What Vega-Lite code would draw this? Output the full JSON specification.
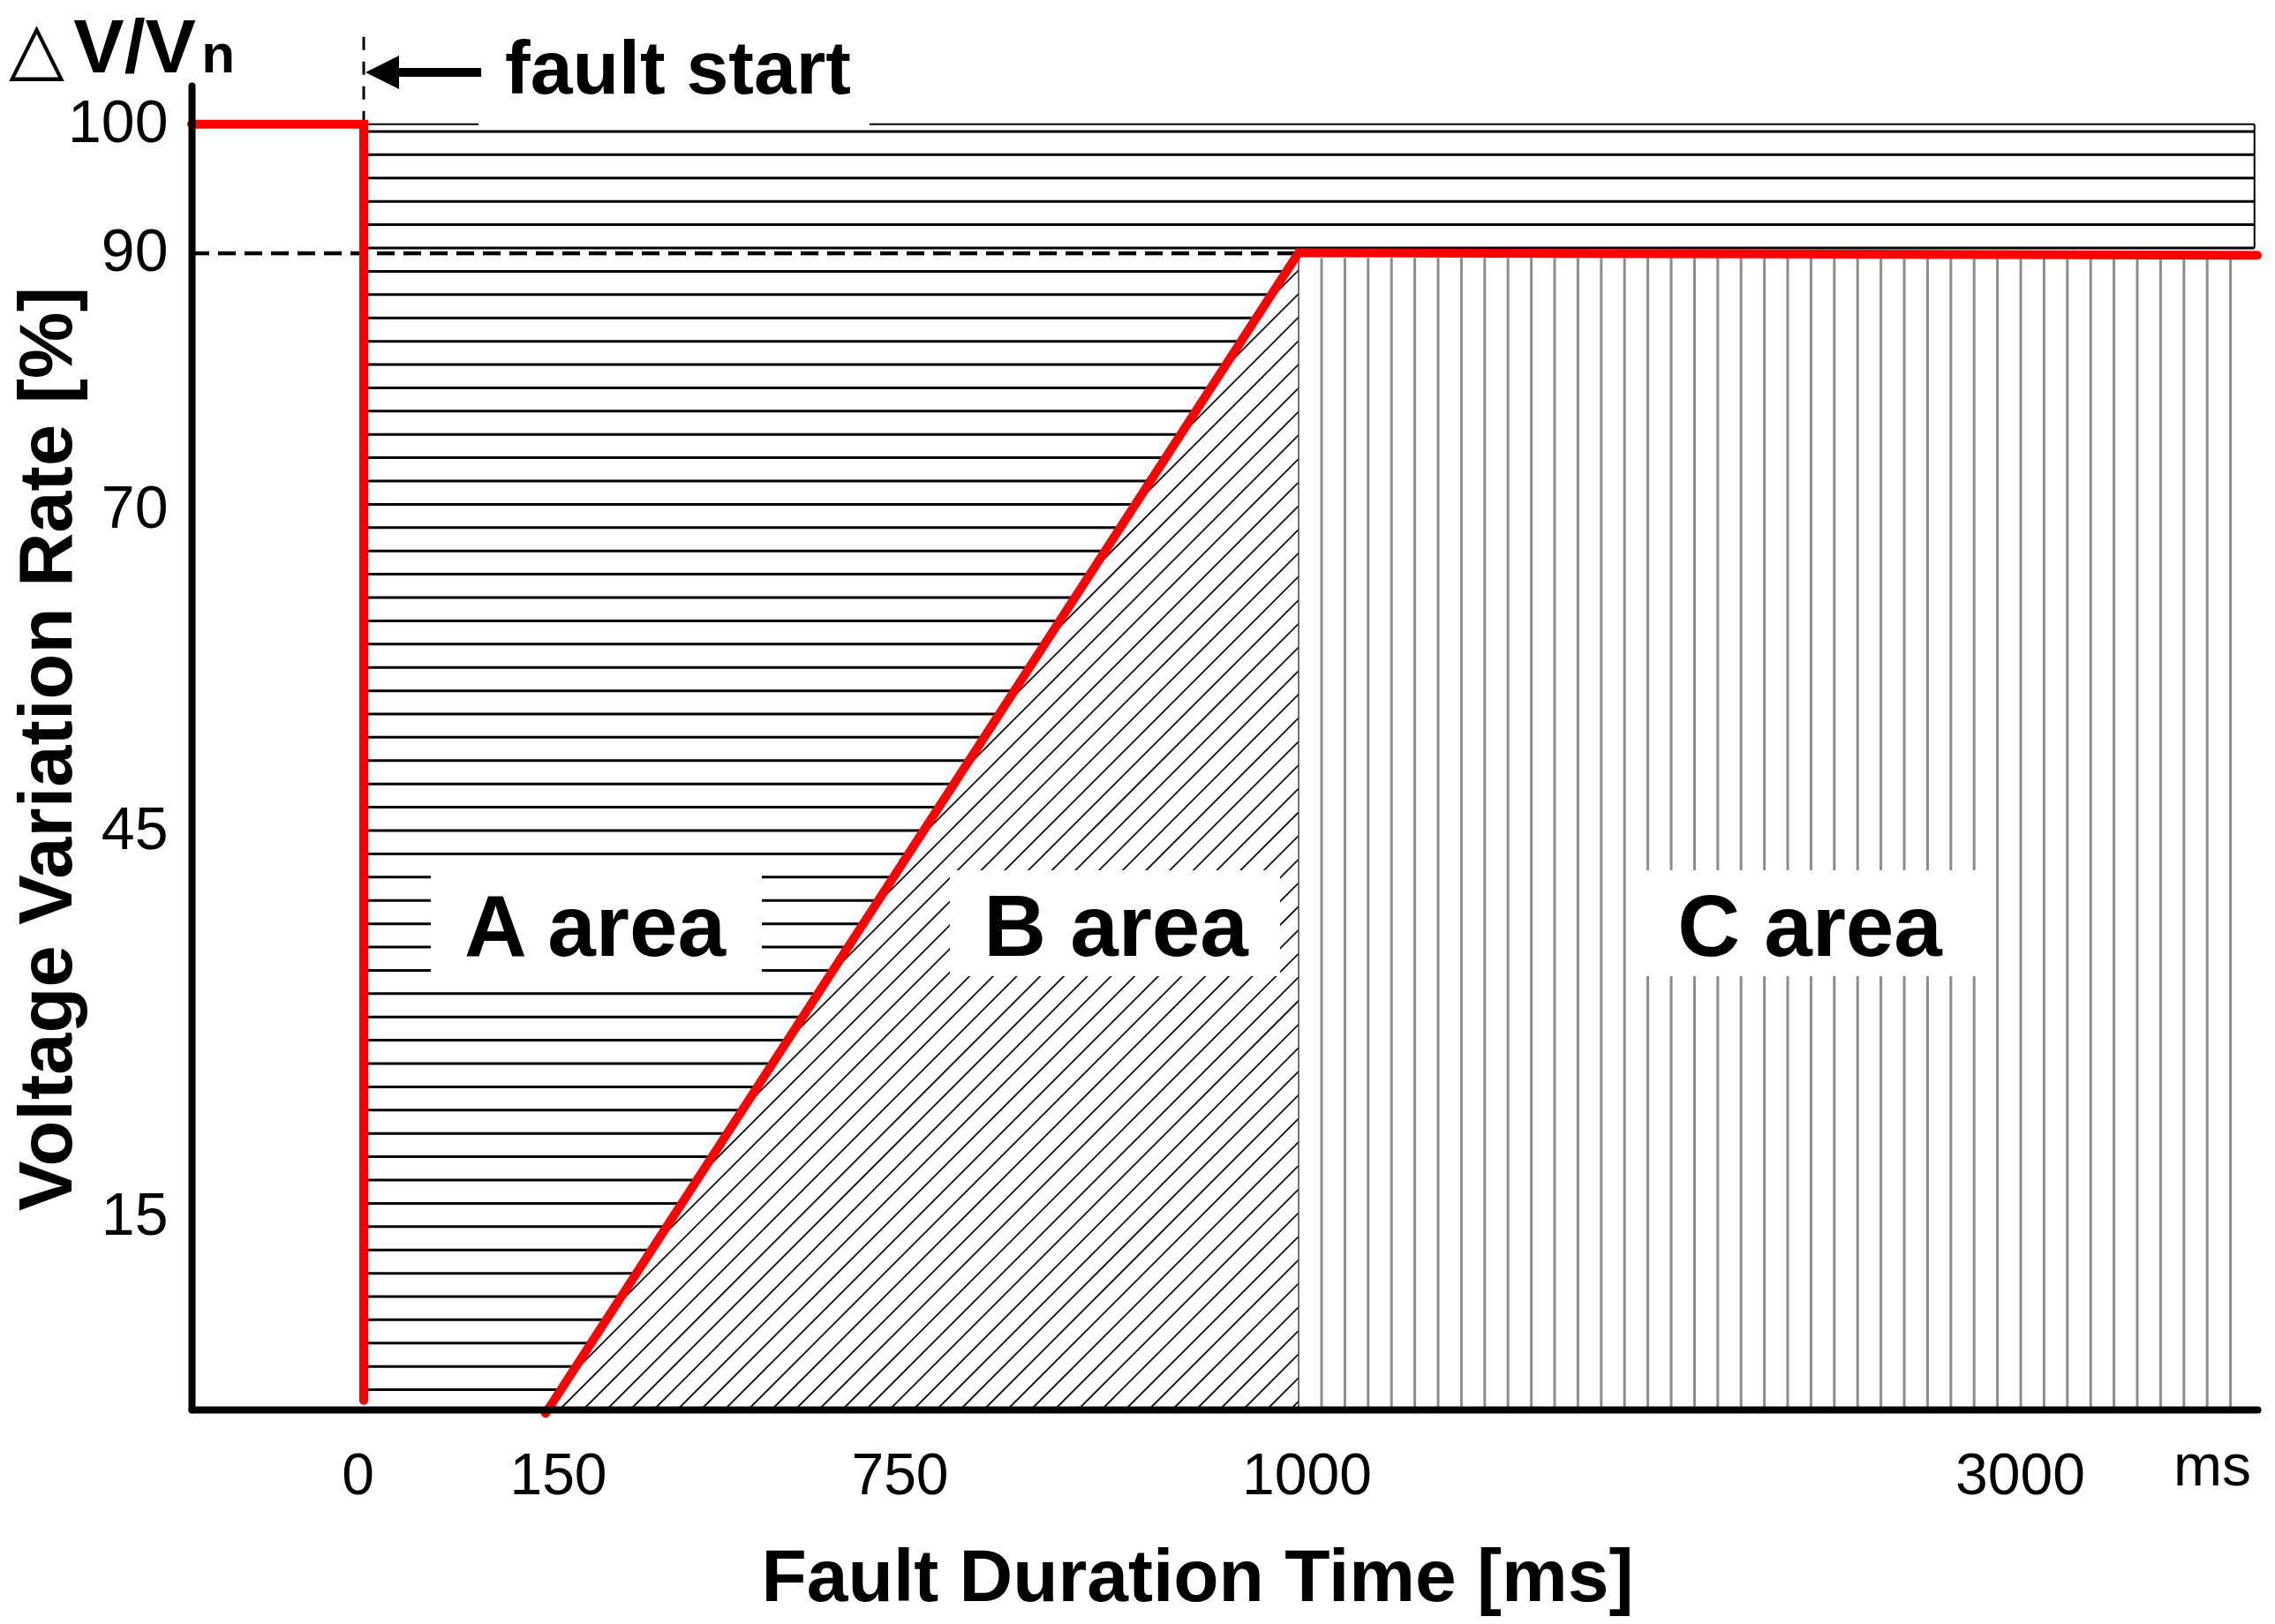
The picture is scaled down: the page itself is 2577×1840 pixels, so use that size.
{
  "$schema": "https://vega.github.io/schema/vega-lite/v6.json",
  "width": 2340,
  "height": 1500,
  "autosize": {"type": "none"},
  "padding": {"left": 217, "top": 97, "right": 20, "bottom": 243},
  "background": "white",
  "config": {"view": {"stroke": null}, "font": "Liberation Sans"},
  "datasets": {
    "hatchH": [
      {"y": 99.43, "x": 0, "x2": 3652}, {"y": 97.62, "x": 0, "x2": 3652}, {"y": 95.80, "x": 0, "x2": 3652},
      {"y": 93.99, "x": 0, "x2": 3652}, {"y": 92.18, "x": 0, "x2": 3652}, {"y": 90.37, "x": 0, "x2": 3652},
      {"y": 88.55, "x": 0, "x2": 992.6}, {"y": 86.74, "x": 0, "x2": 983.1}, {"y": 84.93, "x": 0, "x2": 973.6},
      {"y": 83.11, "x": 0, "x2": 964.2}, {"y": 81.30, "x": 0, "x2": 954.6}, {"y": 79.49, "x": 0, "x2": 945.1},
      {"y": 77.68, "x": 0, "x2": 935.6}, {"y": 75.86, "x": 0, "x2": 926.1}, {"y": 74.05, "x": 0, "x2": 916.6},
      {"y": 72.24, "x": 0, "x2": 907.1}, {"y": 70.42, "x": 0, "x2": 897.6}, {"y": 68.61, "x": 0, "x2": 888.1},
      {"y": 66.80, "x": 0, "x2": 878.5}, {"y": 64.99, "x": 0, "x2": 869.0}, {"y": 63.17, "x": 0, "x2": 859.6},
      {"y": 61.36, "x": 0, "x2": 850.1}, {"y": 59.55, "x": 0, "x2": 840.5}, {"y": 57.73, "x": 0, "x2": 831.0},
      {"y": 55.92, "x": 0, "x2": 821.5}, {"y": 54.11, "x": 0, "x2": 812.0}, {"y": 52.30, "x": 0, "x2": 802.5},
      {"y": 50.48, "x": 0, "x2": 793.0}, {"y": 48.67, "x": 0, "x2": 783.5}, {"y": 46.86, "x": 0, "x2": 774.0},
      {"y": 45.05, "x": 0, "x2": 764.5}, {"y": 43.23, "x": 0, "x2": 755.0}, {"y": 41.42, "x": 0, "x2": 737.7},
      {"y": 39.61, "x": 0, "x2": 712.0}, {"y": 37.79, "x": 0, "x2": 686.3}, {"y": 35.98, "x": 0, "x2": 660.5},
      {"y": 34.17, "x": 0, "x2": 634.8}, {"y": 32.36, "x": 0, "x2": 609.1}, {"y": 30.54, "x": 0, "x2": 583.3},
      {"y": 28.73, "x": 0, "x2": 557.6}, {"y": 26.92, "x": 0, "x2": 532.0}, {"y": 25.10, "x": 0, "x2": 506.3},
      {"y": 23.29, "x": 0, "x2": 480.5}, {"y": 21.48, "x": 0, "x2": 454.8}, {"y": 19.67, "x": 0, "x2": 429.1},
      {"y": 17.85, "x": 0, "x2": 403.3}, {"y": 16.04, "x": 0, "x2": 377.6}, {"y": 14.23, "x": 0, "x2": 351.8},
      {"y": 12.41, "x": 0, "x2": 326.1}, {"y": 10.60, "x": 0, "x2": 300.4}, {"y": 8.79, "x": 0, "x2": 274.6},
      {"y": 6.98, "x": 0, "x2": 249.0}, {"y": 5.16, "x": 0, "x2": 223.3}, {"y": 3.35, "x": 0, "x2": 197.6},
      {"y": 1.54, "x": 0, "x2": 171.8}
    ],
    "border": [
      {"x": 0, "x2": 94.7, "y": 100, "y2": 100},
      {"x": 699.1, "x2": 3652, "y": 100, "y2": 100},
      {"x": 3652, "x2": 3652, "y": 90.37, "y2": 100}
    ],
    "hatchB": [
      {"x": 980.3, "y": 86.20, "x2": 1000, "y2": 88.64}, {"x": 952.7, "y": 80.94, "x2": 1000, "y2": 86.81},
      {"x": 925.2, "y": 75.68, "x2": 1000, "y2": 84.98}, {"x": 897.6, "y": 70.43, "x2": 1000, "y2": 83.14},
      {"x": 870.0, "y": 65.17, "x2": 1000, "y2": 81.31}, {"x": 842.5, "y": 59.92, "x2": 1000, "y2": 79.47},
      {"x": 814.9, "y": 54.66, "x2": 1000, "y2": 77.64}, {"x": 787.3, "y": 49.41, "x2": 1000, "y2": 75.81},
      {"x": 759.8, "y": 44.15, "x2": 1000, "y2": 73.97}, {"x": 701.8, "y": 38.89, "x2": 1000, "y2": 72.14},
      {"x": 627.3, "y": 33.64, "x2": 1000, "y2": 70.31}, {"x": 552.8, "y": 28.39, "x2": 1000, "y2": 68.47},
      {"x": 478.1, "y": 23.13, "x2": 1000, "y2": 66.64}, {"x": 403.6, "y": 17.87, "x2": 1000, "y2": 64.81},
      {"x": 329.0, "y": 12.61, "x2": 1000, "y2": 62.97}, {"x": 254.4, "y": 7.36, "x2": 1000, "y2": 61.14},
      {"x": 179.9, "y": 2.11, "x2": 1000, "y2": 59.31}, {"x": 173.9, "y": 0, "x2": 1000, "y2": 57.47},
      {"x": 213.9, "y": 0, "x2": 1000, "y2": 55.64}, {"x": 253.8, "y": 0, "x2": 1000, "y2": 53.81},
      {"x": 293.8, "y": 0, "x2": 1000, "y2": 51.97}, {"x": 333.7, "y": 0, "x2": 1000, "y2": 50.14},
      {"x": 373.7, "y": 0, "x2": 1000, "y2": 48.31}, {"x": 413.6, "y": 0, "x2": 1000, "y2": 46.47},
      {"x": 453.6, "y": 0, "x2": 1000, "y2": 44.64}, {"x": 493.5, "y": 0, "x2": 1000, "y2": 42.81},
      {"x": 533.5, "y": 0, "x2": 1000, "y2": 40.97}, {"x": 573.4, "y": 0, "x2": 1000, "y2": 39.14},
      {"x": 613.4, "y": 0, "x2": 1000, "y2": 37.31}, {"x": 653.3, "y": 0, "x2": 1000, "y2": 35.47},
      {"x": 693.3, "y": 0, "x2": 1000, "y2": 33.64}, {"x": 733.2, "y": 0, "x2": 1000, "y2": 31.81},
      {"x": 758.6, "y": 0, "x2": 1000, "y2": 29.97}, {"x": 773.3, "y": 0, "x2": 1000, "y2": 28.14},
      {"x": 788.1, "y": 0, "x2": 1000, "y2": 26.31}, {"x": 802.9, "y": 0, "x2": 1000, "y2": 24.47},
      {"x": 817.6, "y": 0, "x2": 1000, "y2": 22.64}, {"x": 832.4, "y": 0, "x2": 1000, "y2": 20.81},
      {"x": 847.2, "y": 0, "x2": 1000, "y2": 18.97}, {"x": 861.9, "y": 0, "x2": 1000, "y2": 17.14},
      {"x": 876.7, "y": 0, "x2": 1000, "y2": 15.31}, {"x": 891.5, "y": 0, "x2": 1000, "y2": 13.47},
      {"x": 906.2, "y": 0, "x2": 1000, "y2": 11.64}, {"x": 921.0, "y": 0, "x2": 1000, "y2": 9.81},
      {"x": 935.8, "y": 0, "x2": 1000, "y2": 7.97}, {"x": 950.6, "y": 0, "x2": 1000, "y2": 6.14},
      {"x": 965.3, "y": 0, "x2": 1000, "y2": 4.31}, {"x": 980.1, "y": 0, "x2": 1000, "y2": 2.47},
      {"x": 994.9, "y": 0, "x2": 1000, "y2": 0.64}
    ],
    "hatchC": [
      {"x": 1063.6, "y": 0, "y2": 89.6}, {"x": 1128.3, "y": 0, "y2": 89.6}, {"x": 1192.9, "y": 0, "y2": 89.6},
      {"x": 1257.5, "y": 0, "y2": 89.6}, {"x": 1322.1, "y": 0, "y2": 89.6}, {"x": 1386.8, "y": 0, "y2": 89.6},
      {"x": 1451.4, "y": 0, "y2": 89.6}, {"x": 1516.0, "y": 0, "y2": 89.6}, {"x": 1580.6, "y": 0, "y2": 89.6},
      {"x": 1645.3, "y": 0, "y2": 89.6}, {"x": 1709.9, "y": 0, "y2": 89.6}, {"x": 1774.5, "y": 0, "y2": 89.6},
      {"x": 1839.2, "y": 0, "y2": 89.6}, {"x": 1903.8, "y": 0, "y2": 89.6}, {"x": 1968.4, "y": 0, "y2": 89.6},
      {"x": 2033.1, "y": 0, "y2": 89.6}, {"x": 2097.7, "y": 0, "y2": 89.6}, {"x": 2162.3, "y": 0, "y2": 89.6},
      {"x": 2226.9, "y": 0, "y2": 89.6}, {"x": 2291.6, "y": 0, "y2": 89.6}, {"x": 2356.2, "y": 0, "y2": 89.6},
      {"x": 2420.8, "y": 0, "y2": 89.6}, {"x": 2485.5, "y": 0, "y2": 89.6}, {"x": 2550.1, "y": 0, "y2": 89.6},
      {"x": 2614.7, "y": 0, "y2": 89.6}, {"x": 2679.4, "y": 0, "y2": 89.6}, {"x": 2744.0, "y": 0, "y2": 89.6},
      {"x": 2808.6, "y": 0, "y2": 89.6}, {"x": 2873.2, "y": 0, "y2": 89.6}, {"x": 2937.9, "y": 0, "y2": 89.6},
      {"x": 3002.5, "y": 0, "y2": 89.6}, {"x": 3067.2, "y": 0, "y2": 89.6}, {"x": 3132.0, "y": 0, "y2": 89.6},
      {"x": 3196.8, "y": 0, "y2": 89.6}, {"x": 3261.5, "y": 0, "y2": 89.6}, {"x": 3326.3, "y": 0, "y2": 89.6},
      {"x": 3391.1, "y": 0, "y2": 89.6}, {"x": 3455.9, "y": 0, "y2": 89.6}, {"x": 3520.6, "y": 0, "y2": 89.6},
      {"x": 3585.4, "y": 0, "y2": 89.6}
    ],
    "boundary": [{"x": 1000, "y": 0, "y2": 90}],
    "boxes": [
      {"x": 55.3, "x2": 516.6, "y": 33.72, "y2": 41.96},
      {"x": 781.5, "x2": 988.4, "y": 33.72, "y2": 41.96},
      {"x": 1947.4, "x2": 2887.4, "y": 33.72, "y2": 41.96}
    ],
    "dash90": [{"x": -140, "x2": 1000, "y": 89.95}],
    "dash0": [{"x": 0, "y": 100, "y2": 107.3}],
    "curve": [
      {"seg": "a", "ord": 1, "x": -140, "y": 100},
      {"seg": "a", "ord": 2, "x": 0, "y": 100},
      {"seg": "a", "ord": 3, "x": 0, "y": 0.7},
      {"seg": "b", "ord": 1, "x": 150, "y": -0.3},
      {"seg": "b", "ord": 2, "x": 1000, "y": 90},
      {"seg": "b", "ord": 3, "x": 3660, "y": 89.8}
    ],
    "shaft": [{"x": 27.7, "x2": 96.9, "y": 104.03}],
    "head": [{"x": 15.3, "y": 104.03}],
    "areas": [
      {"x": 233.8, "y": 35.29, "label": "A area"},
      {"x": 885.5, "y": 35.29, "label": "B area"},
      {"x": 2417.4, "y": 35.29, "label": "C area"}
    ],
    "fault": [{"x": 116.5, "y": 102.38, "label": "fault start"}],
    "tri": [{"x": -288.6, "y": 104.03, "label": "△"}],
    "vv": [{"x": -236.0, "y": 104.03, "label": "V/V"}],
    "sub": [{"x": -132.0, "y": 104.03, "label": "n"}],
    "unit": [{"x": 3535, "y": -5.9, "label": "ms"}]
  },
  "layer": [
    {
      "data": {"name": "hatchH"},
      "mark": {"type": "rule", "color": "black", "strokeWidth": 3, "strokeCap": "butt"},
      "encoding": {
        "x": {
          "field": "x", "type": "quantitative",
          "scale": {"domain": [-140, 0, 150, 750, 1000, 3000, 3660], "range": [0, 195, 401, 802, 1254, 2071, 2340], "nice": false, "zero": false},
          "axis": {
            "values": [0, 150, 750, 1000, 3000], "format": "d",
            "title": "Fault Duration Time [ms]",
            "domainColor": "black", "domainWidth": 8, "domainCap": "round",
            "ticks": false, "tickSize": 0, "grid": false,
            "labelFont": "Liberation Sans", "labelFontSize": 66, "labelColor": "black", "labelPadding": 43,
            "labelFlush": false, "labelOverlap": false,
            "labelOffset": {"condition": [{"test": "datum.value == 0", "value": -7}, {"test": "datum.value == 150", "value": 14}, {"test": "datum.value == 1000", "value": 9}], "value": 0},
            "titleFont": "Liberation Sans", "titleFontSize": 84, "titleFontWeight": "bold", "titleColor": "black",
            "titleX": 1139, "titleY": 216, "titleAlign": "center", "titleBaseline": "alphabetic",
            "zindex": 2
          }
        },
        "x2": {"field": "x2"},
        "y": {
          "field": "y", "type": "quantitative",
          "scale": {"domain": [0, 103], "nice": false, "zero": false},
          "axis": {
            "values": [15, 45, 70, 90, 100], "format": "d",
            "title": "Voltage Variation Rate [%]",
            "domainColor": "black", "domainWidth": 8, "domainCap": "round",
            "ticks": false, "tickSize": 0, "grid": false,
            "labelFont": "Liberation Sans", "labelFontSize": 68, "labelColor": "black", "labelPadding": 27,
            "labelFlush": false, "labelOverlap": false,
            "titleFont": "Liberation Sans", "titleFontSize": 85, "titleFontWeight": "bold", "titleColor": "black",
            "titleAngle": 270, "titleX": -137, "titleY": 751, "titleAlign": "center", "titleBaseline": "alphabetic",
            "zindex": 2
          }
        }
      }
    },
    {
      "data": {"name": "border"},
      "mark": {"type": "rule", "color": "black", "strokeWidth": 2},
      "encoding": {
        "x": {"field": "x", "type": "quantitative"}, "x2": {"field": "x2"},
        "y": {"field": "y", "type": "quantitative"}, "y2": {"field": "y2"}
      }
    },
    {
      "data": {"name": "hatchB"},
      "mark": {"type": "rule", "color": "#111111", "strokeWidth": 1.8},
      "encoding": {
        "x": {"field": "x", "type": "quantitative"}, "x2": {"field": "x2"},
        "y": {"field": "y", "type": "quantitative"}, "y2": {"field": "y2"}
      }
    },
    {
      "data": {"name": "hatchC"},
      "mark": {"type": "rule", "color": "#8c8c8c", "strokeWidth": 3},
      "encoding": {
        "x": {"field": "x", "type": "quantitative"},
        "y": {"field": "y", "type": "quantitative"}, "y2": {"field": "y2"}
      }
    },
    {
      "data": {"name": "boundary"},
      "mark": {"type": "rule", "color": "#444444", "strokeWidth": 1.5},
      "encoding": {
        "x": {"field": "x", "type": "quantitative"},
        "y": {"field": "y", "type": "quantitative"}, "y2": {"field": "y2"}
      }
    },
    {
      "data": {"name": "boxes"},
      "mark": {"type": "rect", "color": "white", "opacity": 1},
      "encoding": {
        "x": {"field": "x", "type": "quantitative"}, "x2": {"field": "x2"},
        "y": {"field": "y", "type": "quantitative"}, "y2": {"field": "y2"}
      }
    },
    {
      "data": {"name": "dash90"},
      "mark": {"type": "rule", "color": "black", "strokeWidth": 4.5, "strokeDash": [20, 10]},
      "encoding": {
        "x": {"field": "x", "type": "quantitative"}, "x2": {"field": "x2"},
        "y": {"field": "y", "type": "quantitative"}
      }
    },
    {
      "data": {"name": "dash0"},
      "mark": {"type": "rule", "color": "black", "strokeWidth": 3, "strokeDash": [15, 13]},
      "encoding": {
        "x": {"field": "x", "type": "quantitative"},
        "y": {"field": "y", "type": "quantitative"}, "y2": {"field": "y2"}
      }
    },
    {
      "data": {"name": "curve"},
      "mark": {"type": "line", "color": "#ff0000", "strokeWidth": 10, "strokeCap": "round", "strokeJoin": "miter"},
      "encoding": {
        "x": {"field": "x", "type": "quantitative"},
        "y": {"field": "y", "type": "quantitative"},
        "detail": {"field": "seg"},
        "order": {"field": "ord", "type": "quantitative"}
      }
    },
    {
      "data": {"name": "shaft"},
      "mark": {"type": "rule", "color": "black", "strokeWidth": 10, "strokeCap": "butt"},
      "encoding": {
        "x": {"field": "x", "type": "quantitative"}, "x2": {"field": "x2"},
        "y": {"field": "y", "type": "quantitative"}
      }
    },
    {
      "data": {"name": "head"},
      "mark": {"type": "point", "shape": "M -1 0 L 1 -1 L 1 1 Z", "size": 1444, "filled": true, "color": "black", "opacity": 1},
      "encoding": {
        "x": {"field": "x", "type": "quantitative"},
        "y": {"field": "y", "type": "quantitative"}
      }
    },
    {
      "data": {"name": "areas"},
      "mark": {"type": "text", "font": "Liberation Sans", "fontSize": 98, "fontWeight": "bold", "color": "black", "align": "center", "baseline": "alphabetic"},
      "encoding": {
        "x": {"field": "x", "type": "quantitative"},
        "y": {"field": "y", "type": "quantitative"},
        "text": {"field": "label"}
      }
    },
    {
      "data": {"name": "fault"},
      "mark": {"type": "text", "font": "Liberation Sans", "fontSize": 86, "fontWeight": "bold", "color": "black", "align": "left", "baseline": "alphabetic"},
      "encoding": {
        "x": {"field": "x", "type": "quantitative"},
        "y": {"field": "y", "type": "quantitative"},
        "text": {"field": "label"}
      }
    },
    {
      "data": {"name": "tri"},
      "mark": {"type": "text", "font": "DejaVu Sans", "fontSize": 82, "color": "black", "align": "left", "baseline": "alphabetic"},
      "encoding": {
        "x": {"field": "x", "type": "quantitative"},
        "y": {"field": "y", "type": "quantitative"},
        "text": {"field": "label"}
      }
    },
    {
      "data": {"name": "vv"},
      "mark": {"type": "text", "font": "Liberation Sans", "fontSize": 86, "fontWeight": "bold", "color": "black", "align": "left", "baseline": "alphabetic"},
      "encoding": {
        "x": {"field": "x", "type": "quantitative"},
        "y": {"field": "y", "type": "quantitative"},
        "text": {"field": "label"}
      }
    },
    {
      "data": {"name": "sub"},
      "mark": {"type": "text", "font": "Liberation Sans", "fontSize": 62, "fontWeight": "bold", "color": "black", "align": "left", "baseline": "alphabetic"},
      "encoding": {
        "x": {"field": "x", "type": "quantitative"},
        "y": {"field": "y", "type": "quantitative"},
        "text": {"field": "label"}
      }
    },
    {
      "data": {"name": "unit"},
      "mark": {"type": "text", "font": "Liberation Sans", "fontSize": 66, "color": "black", "align": "center", "baseline": "alphabetic"},
      "encoding": {
        "x": {"field": "x", "type": "quantitative"},
        "y": {"field": "y", "type": "quantitative"},
        "text": {"field": "label"}
      }
    }
  ]
}
